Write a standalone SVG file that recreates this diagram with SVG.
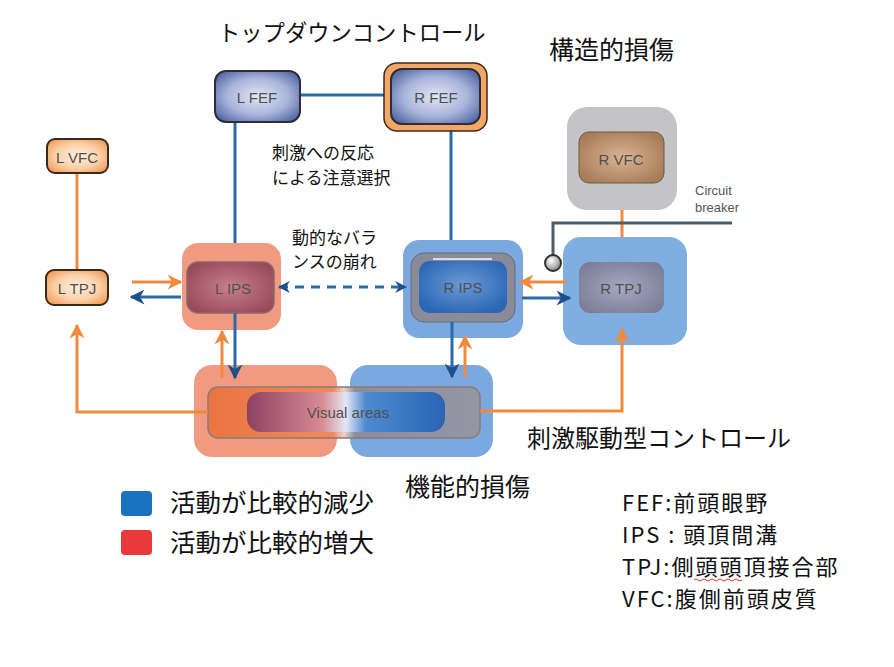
<svg xmlns="http://www.w3.org/2000/svg" width="894" height="667" viewBox="0 0 894 667">
<defs>
<radialGradient id="gBlue" cx="50%" cy="50%" r="60%"><stop offset="0" stop-color="#e2e6f4"/><stop offset="0.6" stop-color="#a8b4da"/><stop offset="1" stop-color="#5a6ea8"/></radialGradient>
<radialGradient id="gOr" cx="50%" cy="50%" r="60%"><stop offset="0" stop-color="#fff0e0"/><stop offset="0.6" stop-color="#fbd0a8"/><stop offset="1" stop-color="#f0a060"/></radialGradient>
<radialGradient id="gLips" cx="50%" cy="50%" r="60%"><stop offset="0" stop-color="#c8808a"/><stop offset="1" stop-color="#98485a"/></radialGradient>
<radialGradient id="gRips" cx="50%" cy="45%" r="60%"><stop offset="0" stop-color="#6a9ad4"/><stop offset="1" stop-color="#2a66b4"/></radialGradient>
<radialGradient id="gRvfc" cx="50%" cy="50%" r="60%"><stop offset="0" stop-color="#d8b494"/><stop offset="1" stop-color="#a87a56"/></radialGradient>
<radialGradient id="gRtpj" cx="50%" cy="50%" r="60%"><stop offset="0" stop-color="#a4a8c0"/><stop offset="1" stop-color="#7c7e98"/></radialGradient>
<linearGradient id="gFrame" x1="0" y1="0" x2="1" y2="0"><stop offset="0" stop-color="#ea7442"/><stop offset="0.46" stop-color="#f08a5a"/><stop offset="0.5" stop-color="#e8d4c8"/><stop offset="0.54" stop-color="#8c8e9e"/><stop offset="1" stop-color="#9496a6"/></linearGradient>
<linearGradient id="gPill" x1="0" y1="0" x2="1" y2="0"><stop offset="0" stop-color="#8c4262"/><stop offset="0.38" stop-color="#d88a92"/><stop offset="0.5" stop-color="#e4e6f6"/><stop offset="0.6" stop-color="#4e8ad0"/><stop offset="1" stop-color="#2a64b4"/></linearGradient>
<radialGradient id="gBall" cx="40%" cy="35%" r="65%"><stop offset="0" stop-color="#ffffff"/><stop offset="1" stop-color="#8a8a8a"/></radialGradient>
<marker id="aO" viewBox="0 0 10 10" refX="9" refY="5" markerWidth="5" markerHeight="5" orient="auto-start-reverse" markerUnits="strokeWidth"><path d="M0,0 L10,5 L0,10 L3,5 z" fill="#f08a3c"/></marker>
<marker id="aB" viewBox="0 0 10 10" refX="9" refY="5" markerWidth="5" markerHeight="5" orient="auto-start-reverse" markerUnits="strokeWidth"><path d="M0,0 L10,5 L0,10 L3,5 z" fill="#1c4f8c"/></marker>
<marker id="aD" viewBox="0 0 10 10" refX="9" refY="5" markerWidth="4" markerHeight="4" orient="auto-start-reverse" markerUnits="strokeWidth"><path d="M0,0 L10,5 L0,10 L3,5 z" fill="#1c4f8c"/></marker>
</defs>
<style>
.lbl{font-family:"Liberation Sans",Arial,sans-serif;font-size:15px;fill:#505050;text-anchor:middle;dominant-baseline:central}
.jp{font-family:"Noto Sans CJK JP","Noto Sans CJK SC",sans-serif;fill:#111}
.ab{font-size:22px;letter-spacing:2px}
.ol{stroke:#f08a3c;stroke-width:3;fill:none}
.bl{stroke:#2a6aa8;stroke-width:3;fill:none}
</style>
<rect width="894" height="667" fill="#fff"/>

<g id="titles">
<text class="jp" x="218" y="41" font-size="22.3">トップダウンコントロール</text>
<text class="jp" x="549" y="59" font-size="25">構造的損傷</text>
<text class="jp" x="527" y="447" font-size="24">刺激駆動型コントロール</text>
<text class="jp" x="405" y="496" font-size="25">機能的損傷</text>
<text class="jp" x="272" y="159" font-size="17">刺激への反応</text>
<text class="jp" x="272" y="184" font-size="17">による注意選択</text>
<text class="jp" x="292" y="244" font-size="17">動的なバラ</text>
<text class="jp" x="292" y="268" font-size="17">ンスの崩れ</text>
<text x="695" y="195" font-family="Liberation Sans,Arial,sans-serif" font-size="13" fill="#555">Circuit</text>
<text x="695" y="212" font-family="Liberation Sans,Arial,sans-serif" font-size="13" fill="#555">breaker</text>
</g>

<g id="visual-areas">
<rect x="194" y="365" width="143" height="92" rx="18" fill="#f19a82"/>
<rect x="350" y="365" width="143" height="92" rx="18" fill="#7ba8de"/>
<rect x="208" y="387" width="272" height="51" rx="10" fill="url(#gFrame)" stroke="#8a7a7a" stroke-width="1.5"/>
<rect x="247" y="392" width="198" height="40" rx="14" fill="url(#gPill)"/>
<text class="lbl" x="348" y="412" font-size="16" fill="#6a6070">Visual areas</text>
</g>

<g id="connectors">
<line class="bl" x1="300" y1="95" x2="391" y2="95"/>
<line class="bl" x1="235" y1="122" x2="235" y2="262"/>
<line class="bl" x1="451" y1="131" x2="451" y2="253"/>
<line x1="77" y1="173" x2="77" y2="270" stroke="#f08a3c" stroke-width="3"/>
<line x1="622" y1="183" x2="622" y2="262" stroke="#f08a3c" stroke-width="3"/>
<polyline points="732,223 553,223 553,256" fill="none" stroke="#4d5c68" stroke-width="3"/>
</g>

<g id="L-FEF">
<rect x="215" y="71" width="85" height="51" rx="11" fill="url(#gBlue)" stroke="#2c2c3a" stroke-width="2"/>
<text class="lbl" x="257" y="97">L FEF</text>
</g>
<g id="R-FEF">
<rect x="384" y="63" width="103" height="68" rx="13" fill="#f4a664" stroke="#3a2a20" stroke-width="1.5"/>
<rect x="391" y="69" width="89" height="55" rx="11" fill="url(#gBlue)" stroke="#2c2c3a" stroke-width="2"/>
<text class="lbl" x="436" y="97">R FEF</text>
</g>
<g id="L-VFC">
<rect x="47" y="139" width="61" height="34" rx="8" fill="url(#gOr)" stroke="#3a2a1a" stroke-width="2"/>
<text class="lbl" x="77" y="157" font-size="14">L VFC</text>
</g>
<g id="L-TPJ">
<rect x="46" y="270" width="62" height="35" rx="8" fill="url(#gOr)" stroke="#3a2a1a" stroke-width="2"/>
<text class="lbl" x="77" y="288" font-size="14">L TPJ</text>
</g>
<g id="L-IPS">
<rect x="182" y="243" width="99" height="87" rx="16" fill="#f19a82"/>
<rect x="187" y="262" width="87" height="51" rx="11" fill="url(#gLips)" stroke="#8a6a6a" stroke-width="1.5"/>
<text class="lbl" x="233" y="288" fill="#7a4a50">L IPS</text>
</g>
<g id="R-IPS">
<rect x="403" y="240" width="120" height="98" rx="16" fill="#7ba8de"/>
<rect x="411" y="253" width="104" height="69" rx="13" fill="#8a8a98" stroke="#6a6a78" stroke-width="1"/>
<rect x="419" y="261" width="88" height="52" rx="11" fill="url(#gRips)"/>
<line x1="433" y1="259" x2="492" y2="259" stroke="#d8dce8" stroke-width="2"/>
<text class="lbl" x="463" y="287" fill="#3a5a80">R IPS</text>
</g>
<g id="R-VFC">
<rect x="567" y="107" width="110" height="103" rx="20" fill="#c4c4c6"/>
<rect x="579" y="132" width="85" height="51" rx="10" fill="url(#gRvfc)" stroke="#6a5a4a" stroke-width="1"/>
<text class="lbl" x="621" y="159" fill="#333">R VFC</text>
</g>
<g id="R-TPJ">
<rect x="563" y="237" width="124" height="108" rx="18" fill="#80aee0"/>
<rect x="579" y="262" width="85" height="51" rx="11" fill="url(#gRtpj)"/>
<text class="lbl" x="621" y="288" fill="#5a6690">R TPJ</text>
</g>
<g id="circuit-breaker">
<circle cx="553" cy="263" r="8" fill="url(#gBall)" stroke="#333" stroke-width="2"/>
</g>

<g id="arrows">
<line class="bl" x1="235" y1="313" x2="235" y2="378" marker-end="url(#aB)"/>
<line class="ol" x1="222" y1="378" x2="222" y2="331" marker-end="url(#aO)"/>
<line class="bl" x1="452" y1="322" x2="452" y2="377" marker-end="url(#aB)"/>
<line class="ol" x1="465" y1="377" x2="465" y2="336" marker-end="url(#aO)"/>
<line class="ol" x1="132" y1="282" x2="181" y2="282" marker-end="url(#aO)"/>
<line class="bl" x1="181" y1="297" x2="131" y2="297" marker-end="url(#aB)"/>
<line class="ol" x1="567" y1="282" x2="520" y2="282" marker-end="url(#aO)"/>
<line class="bl" x1="522" y1="298" x2="570" y2="298" marker-end="url(#aB)"/>
<line x1="279" y1="287" x2="406" y2="287" stroke="#2a6aa8" stroke-width="3" stroke-dasharray="9,7" marker-start="url(#aD)" marker-end="url(#aD)"/>
<polyline class="ol" points="208,412 77,412 77,325" marker-end="url(#aO)"/>
<polyline class="ol" points="480,411 622,411 622,329" marker-end="url(#aO)"/>
</g>

<g id="legend">
<rect x="121" y="491" width="31" height="25" rx="4" fill="#1a72c0"/>
<rect x="121" y="530" width="31" height="25" rx="4" fill="#e83a3a"/>
<text class="jp" x="170" y="512" font-size="25.5">活動が比較的減少</text>
<text class="jp" x="170" y="552" font-size="25.5">活動が比較的増大</text>
</g>
<g id="abbreviations">
<text class="jp ab" x="622" y="511">FEF:前頭眼野</text>
<text class="jp ab" x="622" y="543">IPS : 頭頂間溝</text>
<text class="jp ab" x="622" y="575">TPJ:側頭頭頂接合部</text>
<text class="jp ab" x="622" y="607">VFC:腹側前頭皮質</text>
<path d="M694,580 q2,-2 4,0 t4,0 t4,0 t4,0 t4,0 t4,0 t4,0 t4,0 t4,0 t4,0 t4,0 t4,0" fill="none" stroke="#e03030" stroke-width="1"/>
</g>
</svg>
